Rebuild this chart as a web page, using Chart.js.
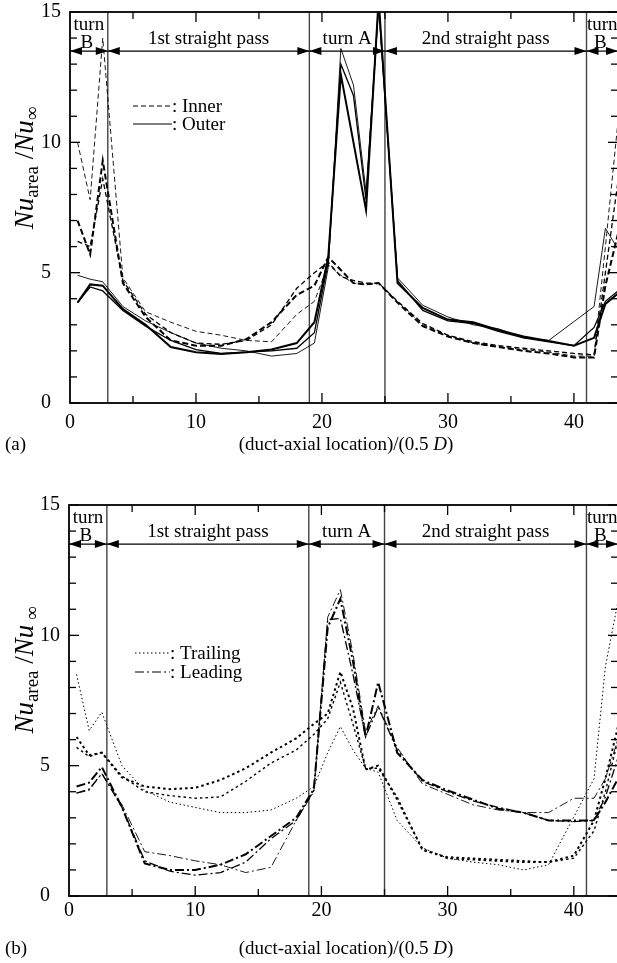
<!DOCTYPE html>
<html>
<head>
<meta charset="utf-8">
<script src="https://cdn.jsdelivr.net/npm/chart.js@4.4.1/dist/chart.umd.min.js"></script>
<style>
html, body { margin: 0; padding: 0; background: #fff; overflow: hidden; }
#wrap { position: relative; width: 617px; height: 963px; overflow: hidden; }
canvas { position: absolute; left: 0; }
</style>
</head>
<body>
<div id="wrap">
  <canvas id="chartA" style="top:0;width:625px;height:470px" width="625" height="470"></canvas>
  <canvas id="chartB" style="top:470px;width:625px;height:493px" width="625" height="493"></canvas>
</div>
<script>
// duct-axial locations of the measured areas, shared by all curves
const xLocations = [0.6, 1.6, 2.6, 4.2, 6, 8, 10, 12, 14, 16, 18, 19.4, 20.5, 21.5, 22.5, 23.5, 24.5, 26, 28, 30, 32, 34, 36, 38, 40, 41.6, 42.5, 43.5];

// panel (a): inner / outer walls
const innerThin  = [10.0, 7.8, 14.0, 4.8, 3.5, 3.1, 2.75, 2.6, 2.4, 2.35, 3.4, 3.9, 5.3, 4.9, 4.6, 4.55, 4.6, 3.9, 3.0, 2.6, 2.3, 2.15, 2.05, 1.95, 1.8, 1.8, 6.0, 10.8];
const innerThick = [7.0, 5.7, 9.3, 4.6, 3.3, 2.4, 2.2, 2.2, 2.45, 3.1, 4.15, 4.5, 5.6, 5.1, 4.6, 4.55, 4.6, 3.85, 2.95, 2.55, 2.3, 2.15, 2.0, 1.9, 1.75, 1.75, 4.5, 6.5];
const innerMid   = [6.2, 6.0, 8.6, 4.7, 3.4, 2.7, 2.3, 2.25, 2.4, 3.0, 4.4, 5.0, 5.4, 4.85, 4.7, 4.6, 4.6, 3.9, 3.05, 2.6, 2.35, 2.2, 2.1, 2.0, 1.9, 1.85, 5.0, 8.5];
const outerThin  = [4.9, 4.75, 4.65, 3.7, 3.15, 2.7, 2.3, 2.1, 2.0, 1.8, 1.9, 2.3, 5.2, 13.6, 12.2, 8.1, 15.2, 4.8, 3.75, 3.3, 3.0, 2.85, 2.5, 2.4, null, 3.7, 6.7, 5.9];
const outerThick = [3.85, 4.55, 4.5, 3.6, 3.0, 2.15, 1.95, 1.88, 1.95, 2.05, 2.3, 3.1, 5.6, 12.6, null, 7.4, 15.5, 4.6, 3.65, 3.2, 3.1, 2.8, 2.55, 2.38, 2.2, 2.5, 3.8, 4.2];
const outerMid   = [3.85, 4.45, 4.3, 3.55, 2.95, 2.4, 2.05, 1.9, 1.95, 2.0, 2.1, 2.7, 5.4, 13.0, 11.8, 7.8, 15.3, 4.7, 3.55, 3.15, 3.05, 2.75, 2.5, 2.35, 2.2, 2.9, 3.9, 4.3];

// panel (b): trailing / leading walls
const trailingThin  = [8.5, 6.35, 7.05, 5.0, 4.05, 3.6, 3.4, 3.2, 3.2, 3.3, 3.75, 4.2, 5.5, 6.5, 5.6, 4.9, 4.75, 2.9, 1.85, 1.45, 1.3, 1.2, 1.0, 1.2, null, 4.5, 8.8, 11.3];
const trailingThick = [6.1, 5.4, 5.5, 4.55, 4.2, 4.1, 4.15, 4.45, 4.9, 5.5, 6.05, 6.6, 7.0, 8.6, 7.2, 4.85, 5.0, 3.7, 1.8, 1.45, 1.4, 1.35, 1.3, 1.3, 1.55, 2.9, 4.5, 6.5];
const trailingMid   = [5.7, 5.35, 5.5, 4.6, 4.0, 3.85, 3.75, 3.8, 4.4, 5.1, 5.6, 6.2, 6.8, 8.2, 6.6, 4.9, 4.9, 3.8, 1.75, 1.5, 1.45, 1.4, 1.35, 1.3, 1.45, 2.5, 4.0, 6.0];
const leadingThick  = [4.2, 4.35, 4.95, 3.4, 1.25, 1.0, 1.0, 1.2, 1.6, 2.3, 3.0, 4.1, 10.3, 11.4, 9.0, 6.1, 8.2, 5.5, 4.45, 4.05, 3.7, 3.35, 3.2, 2.9, 2.9, 2.9, 3.6, 4.5];
const leadingThin   = [3.95, 4.05, 4.7, 3.5, 1.7, 1.55, 1.35, 1.2, 0.9, 1.1, 2.9, 4.0, 10.7, 11.75, 9.3, 6.3, 7.3, 5.7, 4.3, 3.9, 3.5, 3.3, 3.2, 3.2, 3.75, 3.75, 4.5, 6.0];
const leadingMid    = [3.95, 4.1, 4.7, 3.4, 1.35, 0.95, 0.8, 0.9, 1.3, 2.2, 2.9, 4.05, 10.6, 10.65, 8.5, 6.1, 7.25, 5.6, 4.4, 4.0, 3.65, 3.4, 3.2, 2.9, 2.85, 2.9, 3.8, 5.3];

// duct sections
const passLines = [3, 19, 25, 41];
const regionSpans = [[0, 3], [3, 19], [19, 25], [25, 41], [41, 43.5]];
const regionNames = [['turn', 'B'], ['1st straight pass'], ['turn A'], ['2nd straight pass'], ['turn', 'B']];
const arrowLevel = 13.5;

const SERIF = '"Liberation Serif", "Times New Roman", serif';
Chart.defaults.font.family = SERIF;
Chart.defaults.font.size = 20;
Chart.defaults.color = '#000';

const DASH = [5, 3], DOT = [1.5, 2.5], DOT_THICK = [2.5, 3], DASHDOT = [9, 3, 2, 3];

function line(values, dash, width) {
    return {
        data: values.map((v, i) => ({ x: xLocations[i], y: v })),
        borderColor: '#000',
        borderWidth: width,
        borderDash: dash,
        pointRadius: 0,
        tension: 0,
        fill: false,
        spanGaps: true
    };
}

function seg(ctx, x1, y1, x2, y2) {
    ctx.beginPath(); ctx.moveTo(x1, y1); ctx.lineTo(x2, y2); ctx.stroke();
}

function drawRich(ctx, parts, x, y, align) {
    let total = 0;
    parts.forEach(p => { ctx.font = p.font; total += ctx.measureText(p.text).width; });
    let cx = align === 'center' ? x - total / 2 : x;
    ctx.textAlign = 'left';
    ctx.textBaseline = 'alphabetic';
    parts.forEach(p => {
        ctx.font = p.font;
        ctx.fillText(p.text, cx, y + (p.dy || 0));
        cx += ctx.measureText(p.text).width;
    });
}

// section lines, arrows, ticks, frame, legend and titles
const ductFrame = {
    id: 'ductFrame',
    beforeDatasetsDraw(chart) {
        const { ctx, chartArea: a, scales: { x } } = chart;
        ctx.save();
        ctx.strokeStyle = '#444';
        ctx.lineWidth = 1.4;
        passLines.forEach(v => {
            const px = x.getPixelForValue(v);
            seg(ctx, px, a.top, px, a.bottom);
        });
        ctx.restore();
    },
    afterDatasetsDraw(chart, args, opts) {
        const { ctx, chartArea: a, scales: { x, y } } = chart;
        ctx.save();
        ctx.strokeStyle = '#000';
        ctx.fillStyle = '#000';

        // ticks, all four sides, pointing inwards
        ctx.lineWidth = 1.3;
        for (let v = 0; v <= 15; v++) {
            const py = y.getPixelForValue(v);
            const len = v % 5 === 0 ? 10 : 7;
            seg(ctx, a.left, py, a.left + len, py);
            seg(ctx, a.right, py, a.right - len, py);
        }
        for (let v = 5; v < 43.5; v += 5) {
            const px = x.getPixelForValue(v);
            const len = v % 10 === 0 ? 10 : 7;
            seg(ctx, px, a.bottom, px, a.bottom - len);
            seg(ctx, px, a.top, px, a.top + len);
        }
        ctx.lineWidth = 1.8;
        ctx.strokeRect(a.left, a.top, a.right - a.left, a.bottom - a.top);

        // section arrows
        const ya = y.getPixelForValue(arrowLevel);
        ctx.lineWidth = 1.2;
        regionSpans.forEach(([l, r], i) => {
            const pl = x.getPixelForValue(l), pr = x.getPixelForValue(r);
            seg(ctx, pl, ya, pr, ya);
            ctx.beginPath();
            ctx.moveTo(pl, ya); ctx.lineTo(pl + 12, ya - 4); ctx.lineTo(pl + 12, ya + 4); ctx.closePath();
            ctx.moveTo(pr, ya); ctx.lineTo(pr - 12, ya - 4); ctx.lineTo(pr - 12, ya + 4); ctx.closePath();
            ctx.fill();
            const cx = (pl + pr) / 2;
            ctx.font = '19px ' + SERIF;
            ctx.textAlign = 'center';
            ctx.textBaseline = 'alphabetic';
            const names = regionNames[i];
            if (names.length === 2) {
                ctx.fillText(names[0], cx, a.top + 18);
                ctx.fillText(names[1], cx - 2, a.top + 36);
            } else {
                ctx.fillText(names[0], cx, a.top + 32);
            }
        });

        // legend
        opts.legend.forEach(item => {
            ctx.lineWidth = item.width;
            ctx.setLineDash(item.dash);
            seg(ctx, item.x, item.y, item.x + item.len, item.y);
            ctx.setLineDash([]);
            ctx.font = '19px ' + SERIF;
            ctx.textAlign = 'left';
            ctx.textBaseline = 'middle';
            ctx.fillText(item.label, item.x + item.len, item.y + 1);
        });

        // x title and panel label
        const ty = opts.titleY;
        drawRich(ctx, [
            { text: '(duct-axial location)/(0.5 ', font: '19px ' + SERIF },
            { text: 'D', font: 'italic 19px ' + SERIF },
            { text: ')', font: '19px ' + SERIF }
        ], 346, ty, 'center');
        ctx.font = '19px ' + SERIF;
        ctx.fillText(opts.panel, 5, ty);

        // y title, rotated
        ctx.translate(33, opts.yTitleY);
        ctx.rotate(-Math.PI / 2);
        drawRich(ctx, [
            { text: 'Nu', font: 'italic 27px ' + SERIF },
            { text: 'area', font: '19px ' + SERIF, dy: 5 },
            { text: ' /', font: '27px ' + SERIF },
            { text: 'Nu', font: 'italic 27px ' + SERIF },
            { text: opts.infSpace ? ' \u221E' : '\u221E', font: '19px ' + SERIF, dy: 5 }
        ], 0, 0, 'center');
        ctx.restore();
    }
};

function makeChart(id, datasets, pad, xHeight, labelPad, frameOpts) {
    return new Chart(document.getElementById(id), {
        type: 'line',
        data: { datasets },
        plugins: [ductFrame],
        options: {
            responsive: false,
            animation: false,
            layout: { padding: pad },
            plugins: {
                legend: { display: false },
                tooltip: { enabled: false },
                ductFrame: frameOpts
            },
            scales: {
                x: {
                    type: 'linear',
                    min: 0, max: 43.5,
                    grid: { display: false, drawTicks: false },
                    border: { display: false },
                    ticks: { stepSize: 10, includeBounds: false, padding: labelPad, maxRotation: 0 },
                    afterFit: s => { s.height = xHeight; }
                },
                y: {
                    min: 0, max: 15,
                    grid: { display: false, drawTicks: false },
                    border: { display: false },
                    ticks: { stepSize: 5, includeBounds: false, crossAlign: 'far', padding: 0 },
                    afterFit: s => { s.width = 29; }
                }
            }
        }
    });
}

makeChart('chartA', [
    line(innerThin, DASH, 0.9),
    line(innerMid, DASH, 1.3),
    line(innerThick, [6, 3], 2),
    line(outerThin, [], 0.9),
    line(outerMid, [], 1.3),
    line(outerThick, [], 2)
], { left: 41, top: 12, right: 7, bottom: 0 }, 67, 8, {
    panel: '(a)', titleY: 450, yTitleY: 168, infSpace: false,
    legend: [
        { label: ': Inner', dash: [5, 3], width: 1, x: 133, y: 106, len: 39 },
        { label: ': Outer', dash: [], width: 1, x: 133, y: 124, len: 39 }
    ]
});

makeChart('chartB', [
    line(trailingThin, DOT, 1),
    line(trailingMid, DOT_THICK, 1.4),
    line(trailingThick, DOT_THICK, 2),
    line(leadingThin, DASHDOT, 0.9),
    line(leadingMid, DASHDOT, 1.3),
    line(leadingThick, DASHDOT, 2)
], { left: 40, top: 35, right: 7, bottom: 0 }, 67, 3, {
    panel: '(b)', titleY: 484, yTitleY: 200, infSpace: true,
    legend: [
        { label: ': Trailing', dash: [1.5, 2.5], width: 1, x: 135, y: 183, len: 35 },
        { label: ': Leading', dash: [9, 3, 2, 3], width: 1, x: 135, y: 202, len: 35 }
    ]
});
</script>
</body>
</html>
